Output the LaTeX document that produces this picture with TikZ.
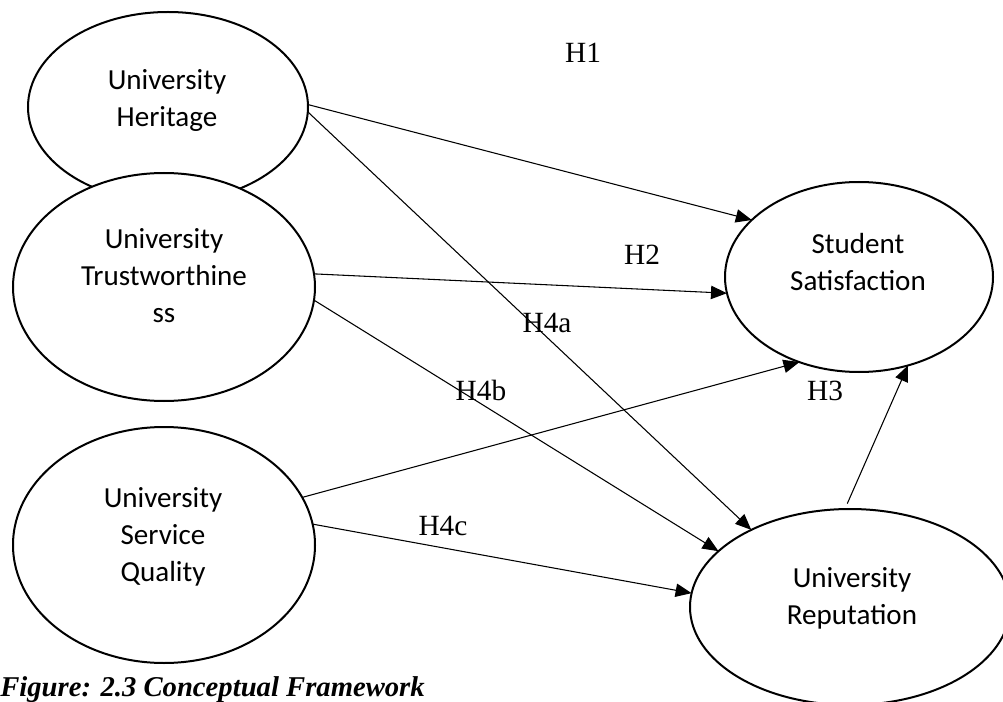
\documentclass[tikz,border=0pt]{standalone}
\usepackage{fontspec}
\setmainfont{Carlito}
\newfontfamily\tnr{Liberation Serif}
\usetikzlibrary{shapes.geometric,arrows.meta}
\begin{document}
\begin{tikzpicture}[x=0.75pt,y=-0.75pt,
  ell/.style={ellipse, draw, line width=1.5pt, fill=white, inner sep=0pt, outer sep=0pt},
  txt/.style={align=center, inner sep=0pt, font=\fontsize{21.8}{27.75}\selectfont},
  hl/.style={inner sep=0pt, font=\tnr\fontsize{22}{26}\selectfont},
  arr/.style={line width=0.8pt, -{Triangle[length=12pt,width=10pt]}}]
\useasboundingbox (0,0) rectangle (1003,702);
\clip (0,0) rectangle (1003,702);
% ellipses
\node[ell, minimum width=210pt, minimum height=142.5pt] (her) at (168,107) {};
\node[ell, minimum width=226.5pt, minimum height=171pt] (tru) at (164,287) {};
\node[ell, minimum width=226.5pt, minimum height=177pt] (sq) at (164,545) {};
\node[ell, minimum width=201pt, minimum height=142.5pt] (ss) at (859,277) {};
\node[ell, minimum width=240pt, minimum height=147pt] (ru) at (850,607) {};
% texts
\node[txt] (herT) at (167,100.6) {University\\Heritage};
\node[txt] (truT) at (164,276) {University\\Trustworthine\\ss};
\node[txt] (sqT) at (163,537) {University\\Service\\Quality};
\node[txt] (ssT) at (858,262.5) {Student\\Satisfaction};
\node[txt] (ruT) at (852,598.5) {University\\Reputation};
% connectors
\draw[arr] (her.1.2) -- (ss.152.6);
\draw[arr] (her.-2.4) -- (ru.142.4);
\draw[arr] (tru.5.3) -- (ss.187.4);
\draw[arr] (tru.-5) -- (ru.157.8);
\draw[arr] (sq.19.2) -- (ss.235.3);
\draw[arr] (sq.8) -- (ru.175.8);
\draw[arr, shorten <=4.5pt] (ru.93.9) -- (ss.-61.3);
% labels
\node[hl] (h1) at (583,53) {H1};
\node[hl] (h2) at (642,255) {H2};
\node[hl] (h4a) at (547,323) {H4a};
\node[hl] (h4b) at (481,390) {H4b};
\node[hl] (h3) at (825,391) {H3};
\node[hl] (h4c) at (443,526) {H4c};
% caption
\node[anchor=base west, inner sep=0pt, font=\tnr\bfseries\itshape\fontsize{21.5}{26}\selectfont] (cap) at (0,696) {Figure: 2.3 Conceptual Framework};
\end{tikzpicture}
\end{document}
